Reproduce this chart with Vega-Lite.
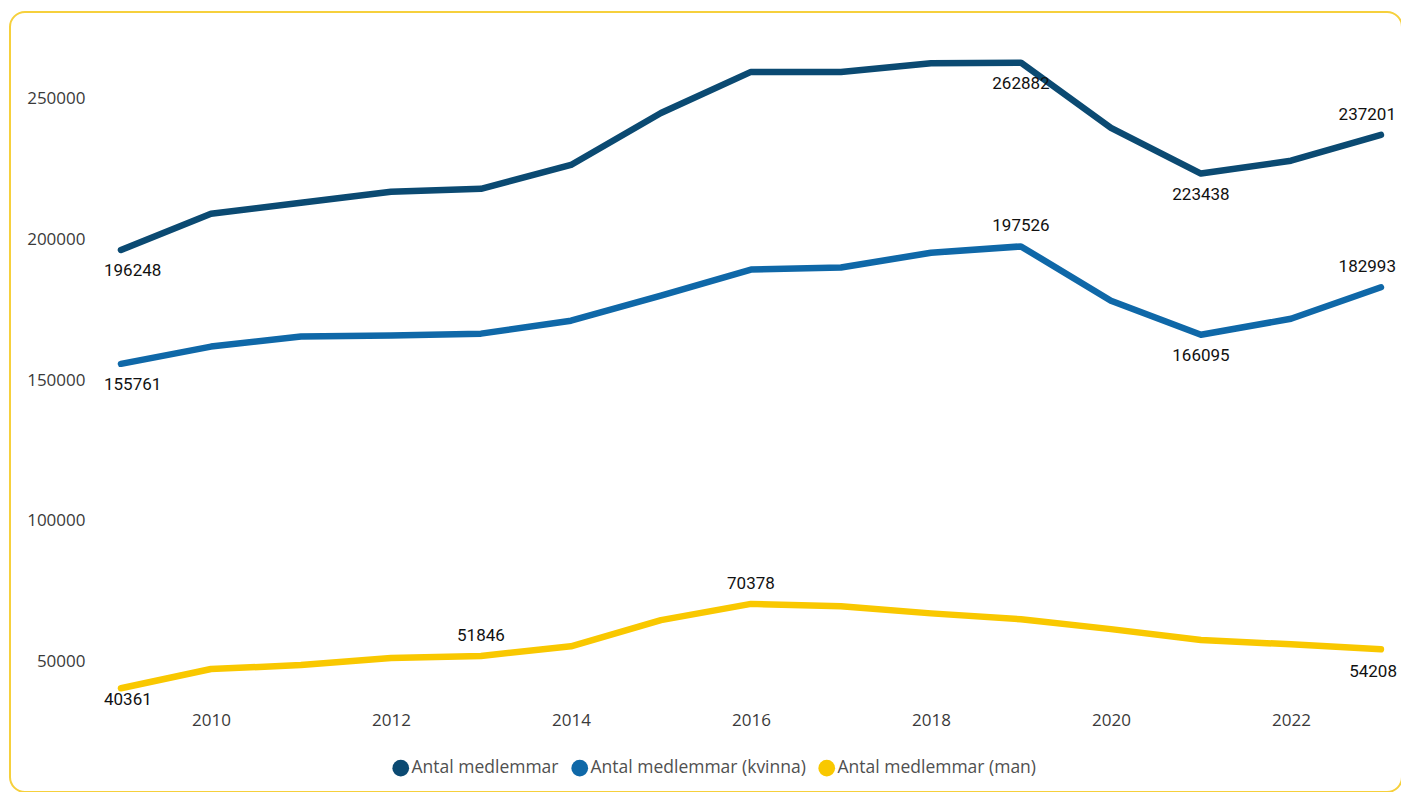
{
  "$schema": "https://vega.github.io/schema/vega-lite/v6.json",
  "autosize": {"type": "none"},
  "width": 1392,
  "height": 780,
  "padding": {"left": 10, "top": 12, "right": 0, "bottom": 0},
  "background": "#ffffff",
  "config": {
    "view": {"stroke": "#F6D03C", "strokeWidth": 2, "cornerRadius": 15},
    "font": "Open Sans"
  },
  "data": {
    "values": [
      {"year": 2009, "series": "Antal medlemmar", "value": 196248},
      {"year": 2010, "series": "Antal medlemmar", "value": 209150},
      {"year": 2011, "series": "Antal medlemmar", "value": 213050},
      {"year": 2012, "series": "Antal medlemmar", "value": 216950},
      {"year": 2013, "series": "Antal medlemmar", "value": 218000},
      {"year": 2014, "series": "Antal medlemmar", "value": 226500},
      {"year": 2015, "series": "Antal medlemmar", "value": 245000},
      {"year": 2016, "series": "Antal medlemmar", "value": 259600},
      {"year": 2017, "series": "Antal medlemmar", "value": 259600},
      {"year": 2018, "series": "Antal medlemmar", "value": 262700},
      {"year": 2019, "series": "Antal medlemmar", "value": 262882},
      {"year": 2020, "series": "Antal medlemmar", "value": 239700},
      {"year": 2021, "series": "Antal medlemmar", "value": 223438},
      {"year": 2022, "series": "Antal medlemmar", "value": 228000},
      {"year": 2023, "series": "Antal medlemmar", "value": 237201},
      {"year": 2009, "series": "Antal medlemmar (kvinna)", "value": 155761},
      {"year": 2010, "series": "Antal medlemmar (kvinna)", "value": 161900},
      {"year": 2011, "series": "Antal medlemmar (kvinna)", "value": 165450},
      {"year": 2012, "series": "Antal medlemmar (kvinna)", "value": 165800},
      {"year": 2013, "series": "Antal medlemmar (kvinna)", "value": 166500},
      {"year": 2014, "series": "Antal medlemmar (kvinna)", "value": 171100},
      {"year": 2015, "series": "Antal medlemmar (kvinna)", "value": 180000},
      {"year": 2016, "series": "Antal medlemmar (kvinna)", "value": 189300},
      {"year": 2017, "series": "Antal medlemmar (kvinna)", "value": 190000},
      {"year": 2018, "series": "Antal medlemmar (kvinna)", "value": 195300},
      {"year": 2019, "series": "Antal medlemmar (kvinna)", "value": 197526},
      {"year": 2020, "series": "Antal medlemmar (kvinna)", "value": 178200},
      {"year": 2021, "series": "Antal medlemmar (kvinna)", "value": 166095},
      {"year": 2022, "series": "Antal medlemmar (kvinna)", "value": 171800},
      {"year": 2023, "series": "Antal medlemmar (kvinna)", "value": 182993},
      {"year": 2009, "series": "Antal medlemmar (man)", "value": 40361},
      {"year": 2010, "series": "Antal medlemmar (man)", "value": 47200},
      {"year": 2011, "series": "Antal medlemmar (man)", "value": 48600},
      {"year": 2012, "series": "Antal medlemmar (man)", "value": 51100},
      {"year": 2013, "series": "Antal medlemmar (man)", "value": 51846},
      {"year": 2014, "series": "Antal medlemmar (man)", "value": 55300},
      {"year": 2015, "series": "Antal medlemmar (man)", "value": 64600},
      {"year": 2016, "series": "Antal medlemmar (man)", "value": 70378},
      {"year": 2017, "series": "Antal medlemmar (man)", "value": 69500},
      {"year": 2018, "series": "Antal medlemmar (man)", "value": 67000},
      {"year": 2019, "series": "Antal medlemmar (man)", "value": 64900},
      {"year": 2020, "series": "Antal medlemmar (man)", "value": 61400},
      {"year": 2021, "series": "Antal medlemmar (man)", "value": 57500},
      {"year": 2022, "series": "Antal medlemmar (man)", "value": 56000},
      {"year": 2023, "series": "Antal medlemmar (man)", "value": 54208}
    ]
  },
  "encoding": {
    "x": {
      "field": "year", "type": "quantitative",
      "scale": {"domain": [2007.767, 2023.234], "nice": false, "zero": false},
      "axis": {
        "title": null, "values": [2010, 2012, 2014, 2016, 2018, 2020, 2022], "format": "d",
        "domain": false, "ticks": false, "grid": false,
        "offset": -86, "labelPadding": 6,
        "labelFontSize": 17, "labelColor": "#3a3a3a", "labelFont": "Open Sans"
      }
    },
    "y": {
      "field": "value", "type": "quantitative",
      "scale": {"domain": [3463, 280906], "nice": false, "zero": false},
      "axis": {
        "title": null, "values": [50000, 100000, 150000, 200000, 250000], "format": "d",
        "domain": false, "ticks": false, "grid": false,
        "offset": -93, "labelPadding": 18,
        "labelFontSize": 17, "labelColor": "#3a3a3a", "labelFont": "Open Sans"
      }
    }
  },
  "layer": [
    {
      "data": {"values": [{"v": 50000}, {"v": 100000}, {"v": 150000}, {"v": 200000}, {"v": 250000}]},
      "mark": {"type": "rule", "stroke": "#7E9DB8", "strokeWidth": 1.6, "strokeDash": [1.6, 6.1]},
      "encoding": {
        "x": {"datum": 2008.8, "type": "quantitative"},
        "x2": {"datum": 2023.16},
        "y": {"field": "v", "type": "quantitative"}
      }
    },
    {
      "mark": {"type": "line", "strokeWidth": 6.5, "strokeCap": "round", "strokeJoin": "round"},
      "encoding": {
        "color": {
          "field": "series", "type": "nominal",
          "scale": {
            "domain": ["Antal medlemmar", "Antal medlemmar (kvinna)", "Antal medlemmar (man)"],
            "range": ["#0B4A72", "#0F68A8", "#F9C800"]
          },
          "legend": {
            "title": null, "orient": "none", "legendX": 382, "legendY": 747,
            "direction": "horizontal", "symbolType": "circle", "symbolSize": 280,
            "symbolStrokeWidth": 0, "labelFontSize": 17.5, "labelColor": "#505050",
            "labelFont": "Open Sans", "labelOffset": 2, "columnPadding": 12, "padding": 0,
            "labelLimit": 0,
            "encode": {"symbols": {"update": {"fill": {"scale": "color", "field": "value"}, "opacity": {"value": 1}}}}
          }
        }
      }
    },
    {
      "transform": [{"filter": "(datum.series == 'Antal medlemmar' && (datum.year == 2019 || datum.year == 2021)) || (datum.series == 'Antal medlemmar (kvinna)' && datum.year == 2021)"}],
      "mark": {"type": "text", "font": "Roboto", "fontSize": 17, "fontWeight": 400, "color": "#111111", "align": "center", "baseline": "middle", "dy": 21},
      "encoding": {"text": {"field": "value", "type": "quantitative", "format": "d"}}
    },
    {
      "transform": [{"filter": "(datum.series == 'Antal medlemmar (kvinna)' && datum.year == 2019) || (datum.series == 'Antal medlemmar (man)' && (datum.year == 2013 || datum.year == 2016))"}],
      "mark": {"type": "text", "font": "Roboto", "fontSize": 17, "fontWeight": 400, "color": "#111111", "align": "center", "baseline": "middle", "dy": -20},
      "encoding": {"text": {"field": "value", "type": "quantitative", "format": "d"}}
    },
    {
      "transform": [{"filter": "datum.year == 2009 && datum.series != 'Antal medlemmar (man)'"}],
      "mark": {"type": "text", "font": "Roboto", "fontSize": 17, "fontWeight": 400, "color": "#111111", "align": "left", "baseline": "middle", "dx": -17, "dy": 21},
      "encoding": {"text": {"field": "value", "type": "quantitative", "format": "d"}}
    },
    {
      "transform": [{"filter": "datum.year == 2009 && datum.series == 'Antal medlemmar (man)'"}],
      "mark": {"type": "text", "font": "Roboto", "fontSize": 17, "fontWeight": 400, "color": "#111111", "align": "left", "baseline": "middle", "dx": -17, "dy": 12},
      "encoding": {"text": {"field": "value", "type": "quantitative", "format": "d"}}
    },
    {
      "transform": [{"filter": "datum.year == 2023 && datum.series != 'Antal medlemmar (man)'"}],
      "mark": {"type": "text", "font": "Roboto", "fontSize": 17, "fontWeight": 400, "color": "#111111", "align": "right", "baseline": "middle", "dx": 15, "dy": -20},
      "encoding": {"text": {"field": "value", "type": "quantitative", "format": "d"}}
    },
    {
      "transform": [{"filter": "datum.year == 2023 && datum.series == 'Antal medlemmar (man)'"}],
      "mark": {"type": "text", "font": "Roboto", "fontSize": 17, "fontWeight": 400, "color": "#111111", "align": "right", "baseline": "middle", "dx": 16, "dy": 23},
      "encoding": {"text": {"field": "value", "type": "quantitative", "format": "d"}}
    }
  ]
}
